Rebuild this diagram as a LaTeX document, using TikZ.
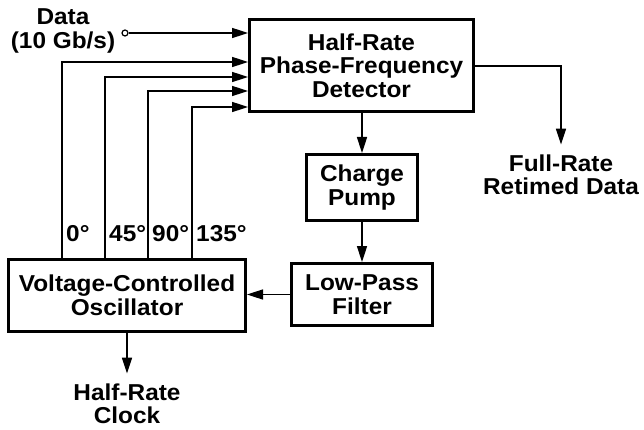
\documentclass[tikz,border=0pt]{standalone}
\usepackage{fontspec}
\newfontfamily\blockfont[FakeStretch=1.06]{Liberation Sans}
\usepackage{tikz}
\usetikzlibrary{arrows.meta}
\usetikzlibrary{positioning}
\pgfdeclarelayer{edgelayer}
\pgfdeclarelayer{nodelayer}
\pgfsetlayers{edgelayer,nodelayer,main}
\tikzstyle{none}=[inner sep=0mm]
\tikzstyle{lbl}=[inner sep=0mm,align=center,font=\blockfont\bfseries\fontsize{23}{23.5}\selectfont]
\tikzstyle{block}=[lbl,draw,line width=3pt,shape=rectangle]
\tikzstyle{open dot}=[circle,draw,fill=white,inner sep=0pt,minimum size=6pt,line width=1.2pt]
\tikzstyle{diredge}=[-{Triangle[length=16pt,width=10pt]},line width=1.6pt]

\begin{document}
\begin{tikzpicture}[x=1pt,y=-1pt]
	\useasboundingbox (0,0) rectangle (644,430);
	\begin{pgfonlayer}{nodelayer}
		\node [style=block,minimum width=224pt,minimum height=92pt] (pfd) at (361.5,65.5) {Half-Rate\\Phase-Frequency\\Detector};
		\node [style=block,minimum width=111pt,minimum height=66pt] (cp) at (362,187.5) {Charge\\Pump};
		\node [style=block,minimum width=141pt,minimum height=62pt] (lpf) at (362,294.5) {Low-Pass\\Filter};
		\node [style=block,minimum width=237pt,minimum height=72pt] (vco) at (127,295.5) {Voltage-Controlled\\Oscillator};
		\node [style=lbl] (din) at (63,31) {Data\\(10 Gb/s)};
		\node [style=open dot] (src) at (125,33) {};
		\node [style=lbl] (dout) at (561,175) {Full-Rate\\Retimed Data};
		\node [style=lbl] (clk) at (127,404) {Half-Rate\\Clock};
		\node [style=lbl,anchor=west] (ph0) at (66,234) {0°};
		\node [style=lbl,anchor=west] (ph45) at (109,234) {45°};
		\node [style=lbl,anchor=west] (ph90) at (152,234) {90°};
		\node [style=lbl,anchor=west] (ph135) at (196,234) {135°};
	\end{pgfonlayer}
	\begin{pgfonlayer}{edgelayer}
		\coordinate (t0) at (62,62);
		\coordinate (t45) at (105,77);
		\coordinate (t90) at (148,91);
		\coordinate (t135) at (192,107);
		\coordinate (bend) at (561,66);
		\draw [style=diredge] (src) to (pfd.west |- src);
		\draw [style=diredge] (vco.north -| t0) -- (t0) -- (pfd.west |- t0);
		\draw [style=diredge] (vco.north -| t45) -- (t45) -- (pfd.west |- t45);
		\draw [style=diredge] (vco.north -| t90) -- (t90) -- (pfd.west |- t90);
		\draw [style=diredge] (vco.north -| t135) -- (t135) -- (pfd.west |- t135);
		\draw [style=diredge] (pfd.south -| cp) to (cp.north);
		\draw [style=diredge] (cp.south) to (lpf.north);
		\draw [style=diredge] (lpf.west) to (vco.east |- lpf.west);
		\draw [style=diredge,shorten >=10pt] (pfd.east |- bend) -| (dout.north);
		\draw [style=diredge,shorten >=10pt] (vco.south -| clk) to (clk.north);
	\end{pgfonlayer}
\end{tikzpicture}
\end{document}
